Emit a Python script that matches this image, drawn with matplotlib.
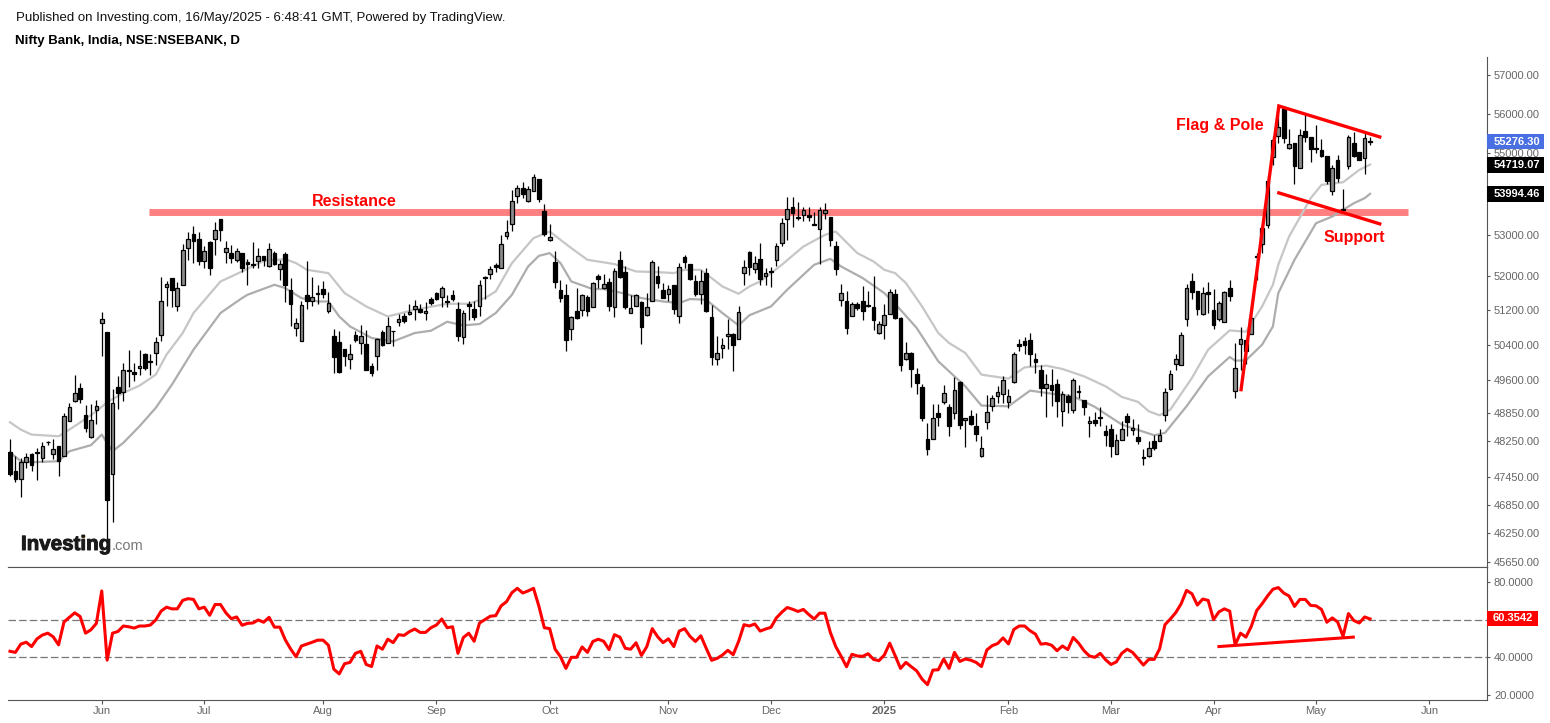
import math
import matplotlib
matplotlib.use('Agg')
import matplotlib.pyplot as plt
import matplotlib.patheffects as pe
from matplotlib.lines import Line2D
from matplotlib.patches import Rectangle
from matplotlib.ticker import FixedLocator, FixedFormatter, NullLocator

plt.rcParams['font.family'] = ['Liberation Sans', 'DejaVu Sans']

# Velas diarias, una por sesion
opens = [48000,47580,47420,47780,47960,48000,47870,48210,47950,48130,
    47915,48685,49120,49420,48820,48330,48920,50905,50700,47525,
    49445,49330,49830,49780,49875,50200,50040,50220,50625,51740,
    51960,51295,51790,52665,53010,52890,52355,52825,52890,53375,
    52570,52555,52400,52555,52340,52290,52355,52490,52235,52555,
    52170,52530,51680,50800,50495,51560,51410,51605,51700,51185,
    50610,50470,50310,50080,50630,50445,50425,49920,50150,50700,
    50445,50725,50925,51070,51120,51240,51235,51140,51465,51605,
    51520,51420,51560,51235,50590,51350,51235,51310,51990,52055,
    52270,52195,52960,53250,53935,54135,53810,54060,54355,53570,
    52865,52340,51680,51560,50770,51185,51210,51515,51280,52005,
    51715,51865,51280,52385,52100,51140,51305,51395,51085,51420,
    52005,51680,51585,51795,51070,52455,52290,51890,51585,52080,
    51050,50080,50330,50610,50655,50540,52070,52575,52175,52410,
    52000,52125,52385,52795,53375,53665,53425,53470,53470,53245,
    53130,53520,53425,52720,51440,51420,51070,51350,51420,51325,
    51280,50675,50860,51115,51580,51020,50075,50215,49735,49440,
    48290,48290,48865,49105,49000,48865,49555,48705,48795,48575,
    47915,48660,49020,49240,49285,49105,49555,50420,50490,50515,
    50075,49825,49420,49490,49510,48905,49240,48930,49355,49150,
    48640,48705,48775,48465,48510,47960,48265,48795,48485,48330,
    47895,47915,48245,48245,48820,49400,49965,49940,51000,51890,
    51655,51115,51630,51210,51000,50930,51725,49355,50420,50510,
    50650,52475,52770,53220,54905,55430,56135,55130,55255,54640,
    55560,55405,55130,55080,54930,54055,54830,53610,54685,55255,
    55030,54880,55310]
highs = [48290,47910,47870,47970,47980,48090,48220,48250,48290,48135,
    48860,49085,49715,49530,49040,49060,49150,51160,50700,49405,
    49700,49980,50290,49990,50275,50220,50185,50590,51985,51880,
    51960,51860,52775,53060,53210,53060,52730,52855,53295,53375,
    52850,52755,52675,52555,52420,52815,52675,52495,52795,52610,
    52395,52575,51960,51025,51425,52370,51985,51790,51890,51630,
    50770,50715,50310,50410,50715,50870,50755,49975,50560,50755,
    51040,50725,51120,51140,51350,51450,51350,51395,51505,51625,
    51770,51570,51670,51395,51215,51410,51410,51905,52020,52235,
    52315,52985,53355,54090,54215,54280,54175,54480,54355,53740,
    53255,52600,51920,51820,51065,51725,51585,51570,51865,52055,
    52055,51960,52195,52600,52235,51570,51590,51410,51605,52395,
    52235,51840,51805,51805,52315,52515,52300,52040,52155,52195,
    51335,50600,50560,51010,50675,51310,52380,52595,52475,52795,
    52195,52220,52795,53400,53910,53910,53790,53665,53665,53560,
    53665,53765,53425,52850,51815,51660,51395,51390,51770,51660,
    52005,50950,51350,51700,51700,51045,50465,50235,49870,49510,
    48640,49050,49050,49495,49050,49670,49585,48750,48935,48865,
    48360,49255,49255,49460,49685,49405,50235,50535,50580,50675,
    50215,49930,49745,49860,49630,49345,49285,49645,49490,49155,
    48790,48885,48995,48595,48620,48395,48685,48865,48730,48620,
    48055,48245,48375,48510,49420,49835,50195,50705,51820,52080,
    51660,51750,51865,51700,51420,51655,51920,50445,50815,50515,
    51280,52545,53235,54435,55440,55990,56185,55610,55255,55610,
    55990,55405,55710,55355,54930,54710,54955,54110,55455,55540,
    55030,55505,55420]
lows = [47470,47350,47030,47640,47580,47390,47790,48150,47840,47470,
    47910,48680,49100,49090,48430,48310,48610,50150,46000,46490,
    48950,49120,49445,49570,49720,49835,49720,49930,50485,51310,
    51270,51180,51785,52395,52315,52275,52210,52040,52515,52855,
    52315,52315,52330,52115,51790,52210,52195,52235,52220,52275,
    51920,51390,50830,50600,50485,51235,51295,51355,51490,51140,
    49760,49760,49910,49860,50460,50180,49835,49680,49835,50370,
    50445,50370,50830,50910,51100,50985,51140,50985,51335,51450,
    51270,51270,51410,50485,50425,50985,50985,51065,51465,51945,
    52115,52195,52890,53075,53780,53885,53805,54060,53805,52955,
    52855,51725,51390,50250,50510,51000,51080,51065,51270,51725,
    51700,51180,51040,51960,51235,51140,51295,50410,51065,51410,
    51725,51480,51410,51125,50895,52195,51920,51530,51350,51155,
    49935,49935,50100,50295,49810,50525,51805,52040,52080,51800,
    51800,51745,52250,52715,52875,53195,53360,53340,53325,53220,
    52300,53375,52730,52040,51295,50645,51060,51215,50985,51280,
    50750,50645,50530,51105,51000,49795,50060,49435,49285,48675,
    47930,48275,48565,49050,48345,48715,48495,48110,48600,48235,
    47890,48510,48900,49085,49085,48965,49535,50250,50190,49925,
    49755,49235,48765,49010,48765,48565,48865,48865,49190,48810,
    48325,48565,48565,48125,47885,47960,48265,48345,48380,48165,
    47725,47895,48045,48235,48680,49370,49820,49935,50830,51465,
    51100,51090,51140,50765,50945,50920,51410,49190,49835,49955,
    50640,51920,52550,53170,54720,55255,55270,55120,54235,54630,
    55295,54775,55005,54905,54225,53975,54275,53535,54605,54905,
    54825,54475,55220]
closes = [47510,47420,47790,47890,47710,47970,48125,48215,48070,47800,
    48800,49000,49310,49170,48520,48710,49010,50990,46960,49080,
    49300,49820,49805,49730,49920,49865,50015,50475,51410,51820,
    51670,51725,52625,52890,52835,52355,52595,52190,53105,53115,
    52675,52440,52600,52210,52285,52275,52475,52395,52650,52290,
    52290,51790,51340,50910,51325,51410,51515,51585,51575,51370,
    50120,49785,50140,50195,50510,50600,49835,49750,50540,50395,
    50840,50710,51000,50950,51165,51305,51165,51185,51365,51465,
    51715,51395,51475,50610,51135,51305,51040,51790,51960,52170,
    52220,52770,53060,53810,54135,53985,54125,54405,53855,53010,
    52935,51860,51490,50510,51050,51015,51560,51180,51840,51935,
    51810,51305,52125,51985,51280,51257,51560,50815,51280,52340,
    51835,51490,51700,51235,52220,52340,51935,51585,51890,51180,
    50125,50215,50400,50655,50400,51155,52220,52220,52315,51930,
    52080,52100,52720,53275,53620,53515,53400,53595,53425,53230,
    53595,53595,52860,52175,51605,50790,51350,51250,51185,51300,
    50975,50880,51090,51630,51020,49940,50215,49845,49530,48750,
    48070,48750,48775,49305,48575,49375,48595,48750,48620,48400,
    48090,48885,49195,49330,49600,49240,50190,50375,50400,50190,
    50005,49420,49510,49375,49130,49285,49105,49600,49330,48995,
    48685,48640,48750,48375,48135,48265,48510,48665,48530,48245,
    47870,48090,48090,48375,49330,49735,50080,50625,51725,51630,
    51230,51605,51585,50860,51370,51630,51535,49875,50535,50255,
    51020,52450,53170,54320,55340,55660,55380,55230,54680,55455,
    55405,55105,55115,54930,54300,54640,54395,53595,55405,54945,
    54830,55380,55276]

ma_fast_idx = [0,2,4,9,11,14,16,18,21,24,27,29,32,34,39,43,47,51,53,55,59,62,66,70,75,81,85,88,90,93,97,100,
    104,107,112,116,120,123,125,128,132,135,137,139,143,147,151,153,157,160,162,164,166,169,172,174,177,180,
    185,188,192,195,199,203,206,209,211,213,215,219,222,226,229,232,234,235,237,241,243,247,250,252]
ma_fast = [48653,48490,48381,48344,48490,48728,48898,49098,49308,49473,49721,50176,50674,51138,51879,52116,52370,
    52410,52315,52156,52077,51605,51291,51058,51214,51354,51354,51488,51643,52315,52915,53074,52674,52394,52292,
    52116,52101,52077,52156,52156,51761,51588,51761,51879,52275,52712,52994,53074,52554,52354,52156,52077,51841,
    51291,50674,50444,50215,49721,49631,49887,49925,49850,49683,49457,49219,49107,48898,48808,48935,49646,50290,
    50734,50704,51291,51801,52275,52953,53887,54214,54280,54586,54719]
ma_slow_idx = [0,2,4,9,11,15,17,18,19,21,24,27,30,34,39,43,44,49,51,54,57,59,61,63,67,71,75,78,81,84,87,90,93,96,98,
    100,102,104,108,110,113,117,121,124,126,129,132,135,137,141,144,149,152,154,158,162,165,168,172,177,180,185,
    189,193,197,201,206,212,214,218,222,226,227,229,232,234,235,238,242,245,249,251,252]
ma_slow = [47993,47797,47775,47797,48015,48147,48381,48199,48015,48199,48565,48973,49495,50290,51138,51488,51565,
    51801,51723,51488,51408,51408,51058,50826,50559,50481,50674,50727,50935,50850,50882,51138,51565,52235,52489,
    52554,52315,51879,51699,51699,51619,51488,51408,51371,51465,51448,51138,50850,51086,51291,51683,52275,52417,
    52235,51959,51605,51214,50790,50024,49457,49025,49009,49360,49292,49232,48996,48602,48366,48418,49009,49683,
    50123,50039,50046,50405,50826,51605,52394,53277,53438,53764,53887,53994]

# Oscilador del panel inferior
rsi = [43.2,42.6,47.0,48.0,45.7,49.8,51.8,52.8,50.9,46.6,58.7,61.2,63.6,61.6,52.8,54.6,58.0,75.2,38.5,52.8,
    53.7,56.6,56.2,55.5,56.6,56.6,57.1,59.8,64.5,66.6,65.7,65.7,70.2,71.1,70.7,65.7,66.6,62.3,68.0,68.0,
    63.6,60.5,61.4,57.0,58.0,58.2,59.8,58.6,61.2,56.0,56.0,49.3,44.4,40.3,46.0,47.0,48.0,49.1,49.1,46.4,
    33.7,31.2,36.6,37.3,42.1,43.2,36.2,35.1,46.0,44.3,49.6,47.8,52.0,51.6,53.6,55.0,53.2,53.2,55.7,57.1,
    60.3,55.7,56.2,42.1,50.5,52.8,48.5,58.2,60.0,61.8,62.1,67.3,69.5,74.3,76.6,74.1,75.2,76.6,67.1,55.7,
    55.2,44.3,40.3,34.1,40.0,40.0,45.5,42.6,48.4,49.6,48.5,44.1,52.0,50.7,44.8,44.3,47.7,41.0,45.7,55.2,
    50.9,47.8,49.8,45.7,53.9,55.2,51.1,48.4,51.4,44.8,38.4,39.4,41.2,43.7,41.4,48.4,57.3,56.6,57.7,53.9,
    55.0,55.9,60.9,63.9,66.4,65.5,64.3,65.4,62.7,60.3,63.4,63.4,53.2,45.7,40.5,35.0,41.6,40.7,40.5,41.9,
    38.9,38.2,41.2,47.5,40.9,34.1,37.3,35.0,32.8,28.4,25.5,33.2,33.4,39.1,34.1,42.6,37.8,39.1,38.5,37.3,
    35.1,43.9,46.2,47.3,50.3,47.1,54.8,56.6,56.6,54.1,52.3,47.0,47.3,46.4,43.5,46.0,44.1,50.5,47.5,43.5,
    40.7,40.0,42.1,38.7,36.2,37.6,42.1,44.3,42.6,39.3,35.9,38.9,38.9,44.4,57.3,60.3,63.7,68.4,75.5,73.7,
    67.7,70.9,70.2,60.0,64.1,65.7,64.5,46.6,52.8,50.7,56.4,64.8,68.4,72.5,76.1,77.0,74.1,72.5,67.0,70.7,
    70.7,67.5,67.3,65.4,58.6,60.9,58.7,51.1,63.2,59.5,58.2,61.4,60.35]

# Ejes
price_ticks = [57000,56000,55000,54000,53000,52000,51200,50400,49600,48850,48250,47450,46850,46250,45650]
rsi_ticks = [80,40,20]
month_idx = [17,36,58,79,100,122,141,162,185,204,223,242,263]
month_labels = ['Jun','Jul','Aug','Sep','Oct','Nov','Dec','2025','Feb','Mar','Apr','May','Jun']

GRIS = '#666666'
EJE = '#555555'

fig = plt.figure(figsize=(15.5, 7.23), dpi=100)
ax = fig.add_axes([8/1550, 1-567/723, 1479/1550, 510/723])
ax_rsi = fig.add_axes([8/1550, 1-700/723, 1479/1550, 133/723], sharex=ax)

# Banda de resistencia detras de las velas
ax.plot([25.75, 259], [53540, 53540], color='#ff8080', lw=5.0, solid_capstyle='butt', zorder=1)

ax.plot(ma_fast_idx, ma_fast, color='#c6c6c6', lw=1.6, zorder=2)
ax.plot(ma_slow_idx, ma_slow, color='#adadad', lw=1.6, zorder=2)

# Velas
dias = list(range(len(opens)))
ax.vlines(dias, lows, highs, color='black', lw=0.9, zorder=3)
for d, o, c in zip(dias, opens, closes):
    color = '#8c8c8c' if c >= o else 'black'
    ax.bar(d, max(abs(c - o), 12), bottom=min(o, c), width=0.68, color=color,
           edgecolor='black', linewidth=0.9, zorder=4)

# Trazos a mano: mastil y bandera
ax.plot([228.1, 235.1, 253.8], [49382, 56200, 55413], color='#ff0000', lw=2.4, zorder=6,
        solid_joinstyle='miter')
ax.plot([235.1, 253.8], [54017, 53260], color='#ff0000', lw=2.4, zorder=6)

ax.text(63.7, 53800, 'Resistance', color='#ff0000', fontsize=11.5, fontweight='bold', ha='center', va='center')
ax.text(224.1, 55715, 'Flag & Pole', color='#ff0000', fontsize=11.5, fontweight='bold', ha='center', va='center')
ax.text(249, 52920, 'Support', color='#ff0000', fontsize=11.5, fontweight='bold', ha='center', va='center')

ax.set_yscale('log')
ax.set_ylim(45546, 57470)
ax.set_xlim(-0.37, 273.67)
ax.yaxis.tick_right()
ax.yaxis.set_major_locator(FixedLocator(price_ticks))
ax.yaxis.set_major_formatter(FixedFormatter([f'{v:.2f}' for v in price_ticks]))
ax.yaxis.set_minor_locator(NullLocator())
ax.tick_params(axis='y', length=2.5, width=0.8, color=EJE, labelcolor=GRIS, labelsize=8, pad=2.5)
ax.tick_params(axis='x', length=0, labelbottom=False)
ax.spines['left'].set_visible(False)
ax.spines['top'].set_visible(False)
for lado in ['right', 'bottom']:
    ax.spines[lado].set_color(EJE)


# Etiqueta de ultimo valor pegada al eje derecho
def etiqueta(eje, valor, texto, fondo, abajo, arriba, ancho):
    eje.add_patch(Rectangle((1, abajo), ancho, arriba - abajo, transform=eje.get_yaxis_transform(),
                            fc=fondo, ec='none', clip_on=False, zorder=9))
    eje.annotate(texto, xy=(1, valor), xycoords=eje.get_yaxis_transform(), xytext=(4.4, 0),
                 textcoords='offset points', color='white', fontsize=8, fontweight='bold', va='center',
                 annotation_clip=False, zorder=10)


alto = math.exp(7.7 / 2193)
for valor, texto, fondo in [(55292, '55276.30', '#4a6fe3'), (54710, '54719.07', 'black'), (53990, '53994.46', 'black')]:
    etiqueta(ax, valor, texto, fondo, valor / alto, valor * alto, 57 / 1479)

# Panel inferior
ax_rsi.axhline(60, color='#777777', lw=0.9, dashes=(6, 2.5), zorder=1)
ax_rsi.axhline(40, color='#777777', lw=0.9, dashes=(6, 2.5), zorder=1)
ax_rsi.plot(dias, rsi, color='#ff0000', lw=2.2, zorder=3)
ax_rsi.plot([224, 248.9], [45.7, 50.7], color='#ff0000', lw=2.2, zorder=3)
ax_rsi.set_ylim(17.35, 87.9)
ax_rsi.yaxis.tick_right()
ax_rsi.set_yticks(rsi_ticks)
ax_rsi.set_yticklabels([f'{v:.4f}' for v in rsi_ticks])
ax_rsi.tick_params(axis='y', length=2.5, width=0.8, color=EJE, labelcolor=GRIS, labelsize=8, pad=2.5)
ax_rsi.set_xticks(month_idx)
ax_rsi.set_xticklabels(month_labels)
ax_rsi.tick_params(axis='x', length=3, width=0.8, color=EJE, labelcolor=GRIS, labelsize=8, pad=1.5)
for lab in ax_rsi.get_xticklabels():
    if lab.get_text() == '2025':
        lab.set_fontweight('bold')
ax_rsi.spines['left'].set_visible(False)
ax_rsi.spines['top'].set_color(EJE)
ax_rsi.spines['right'].set_color(EJE)
ax_rsi.spines['bottom'].set_color(EJE)
etiqueta(ax_rsi, 60.6, '60.3542', '#ff0000', 56.5, 64.8, 51 / 1479)

# Cabecera y logo
fig.text(16/1550, 1-18/723, 'Published on Investing.com, 16/May/2025 - 6:48:41 GMT, Powered by TradingView.',
         fontsize=9.56, color='#111111', va='center')
fig.text(15/1550, 1-41/723, 'Nifty Bank, India, NSE:NSEBANK, D', fontsize=9.5, fontweight='bold', color='black', va='center')
logo = fig.text(21/1550, 1-550/723, 'Investing', fontsize=14.8, fontweight='bold', color='#1a1a1a', va='baseline', zorder=8)
logo.set_path_effects([pe.withStroke(linewidth=0.7, foreground='#1a1a1a')])
fig.text(112/1550, 1-550.5/723, '.com', fontsize=10.5, color='#777777', va='baseline', zorder=8)
fig.add_artist(Line2D([83/1550], [1-536/723], marker='o', ms=2.6, color='#f7941d', mec='none', transform=fig.transFigure))

fig.savefig('out.png', dpi=100)
